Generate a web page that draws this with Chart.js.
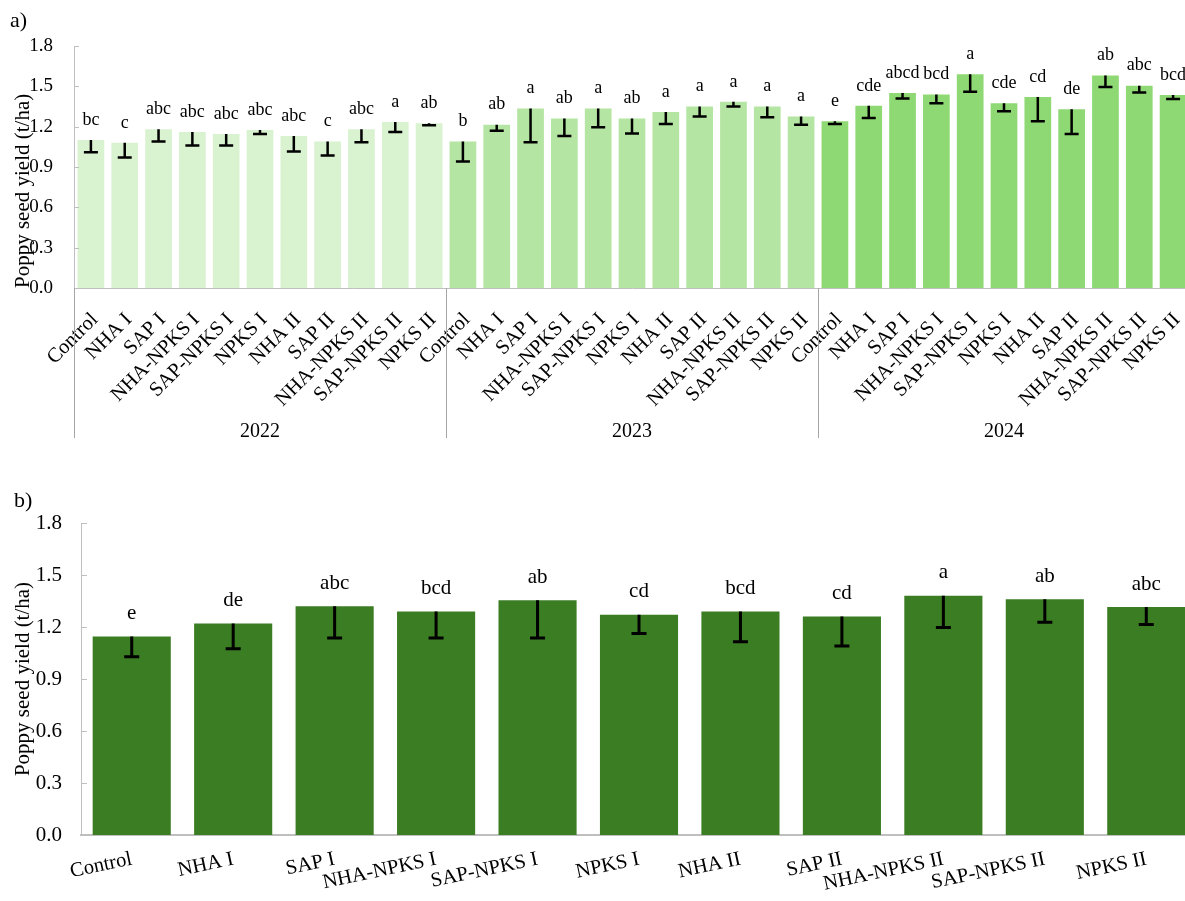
<!DOCTYPE html>
<html>
<head>
<meta charset="utf-8">
<title>Poppy seed yield</title>
<script src="https://cdn.jsdelivr.net/npm/chart.js@4.4.1/dist/chart.umd.min.js"></script>
<style>
  body { margin: 0; background: #fff; overflow: hidden; width: 1185px; height: 901px; position: relative; font-family: "Liberation Serif", "Times New Roman", serif; }
  canvas { position: absolute; left: 0; }
  .panel-label { position: absolute; font-size: 22px; color: #000; z-index: 2; }
</style>
</head>
<body>
<div class="panel-label" style="left:10px; top:7px">a)</div>
<canvas id="chartA" width="1190" height="450" style="top:0"></canvas>
<div class="panel-label" style="left:14px; top:487px">b)</div>
<canvas id="chartB" width="1197" height="451" style="top:450px"></canvas>
<script>
// treatments and years
const treatments = ['Control', 'NHA I', 'SAP I', 'NHA-NPKS I', 'SAP-NPKS I', 'NPKS I',
                    'NHA II', 'SAP II', 'NHA-NPKS II', 'SAP-NPKS II', 'NPKS II'];
const years = ['2022', '2023', '2024'];

// panel a) yield per year (t/ha), lower error (SE) and letters
const yield2022 = [1.10, 1.08, 1.18, 1.16, 1.145, 1.175, 1.13, 1.09, 1.18, 1.235, 1.225];
const err2022   = [0.09, 0.11, 0.09, 0.10, 0.085, 0.03, 0.115, 0.105, 0.095, 0.075, 0.015];
const letters2022 = ['bc', 'c', 'abc', 'abc', 'abc', 'abc', 'abc', 'c', 'abc', 'a', 'ab'];

const yield2023 = [1.09, 1.215, 1.335, 1.26, 1.335, 1.26, 1.31, 1.35, 1.385, 1.35, 1.275];
const err2023   = [0.15, 0.045, 0.25, 0.13, 0.14, 0.11, 0.09, 0.075, 0.035, 0.08, 0.06];
const letters2023 = ['b', 'ab', 'a', 'ab', 'a', 'ab', 'a', 'a', 'a', 'a', 'a'];

const yield2024 = [1.24, 1.355, 1.45, 1.44, 1.59, 1.375, 1.42, 1.33, 1.58, 1.505, 1.435];
const err2024   = [0.02, 0.09, 0.04, 0.065, 0.13, 0.06, 0.18, 0.185, 0.085, 0.05, 0.03];
const letters2024 = ['e', 'cde', 'abcd', 'bcd', 'a', 'cde', 'cd', 'de', 'ab', 'abc', 'bcd'];

// panel b) mean over years
const yieldMean = [1.145, 1.22, 1.32, 1.29, 1.355, 1.27, 1.29, 1.26, 1.38, 1.36, 1.315];
const errMean   = [0.117, 0.146, 0.183, 0.153, 0.218, 0.108, 0.175, 0.17, 0.183, 0.133, 0.101];
const lettersMean = ['e', 'de', 'abc', 'bcd', 'ab', 'cd', 'bcd', 'cd', 'a', 'ab', 'abc'];

const yMin = 0, yMax = 1.8, yStep = 0.3;

const yearColors = ['#d9f2d0', '#b4e5a2', '#8ed973'];
const meanColor = '#3b7d23';
const axisColor = '#bfbfbf';
const FONT = '"Liberation Serif", "Times New Roman", serif';

// error bars (minus only), letters, inward y ticks
function marksPlugin(errors, letters, s) {
  return {
    id: 'marks',
    afterDatasetsDraw(chart) {
      const ctx = chart.ctx;
      const x = chart.scales.x, y = chart.scales.y;
      const vals = chart.data.datasets[0].data;
      const meta = chart.getDatasetMeta(0);
      ctx.save();
      ctx.strokeStyle = axisColor;
      ctx.lineWidth = 1;
      y.ticks.forEach(t => {
        const py = Math.round(y.getPixelForValue(t.value)) + 0.5;
        ctx.beginPath();
        ctx.moveTo(x.left, py);
        ctx.lineTo(x.left + s.tick, py);
        ctx.stroke();
      });
      ctx.strokeStyle = '#000';
      ctx.lineWidth = s.errWidth;
      ctx.fillStyle = '#000';
      ctx.font = s.letterSize + 'px ' + FONT;
      ctx.textAlign = 'center';
      ctx.textBaseline = 'middle';
      meta.data.forEach((bar, i) => {
        const top = y.getPixelForValue(vals[i]);
        const bot = y.getPixelForValue(vals[i] - errors[i]);
        ctx.beginPath();
        ctx.moveTo(bar.x, top);
        ctx.lineTo(bar.x, bot);
        ctx.moveTo(bar.x - s.cap / 2, bot);
        ctx.lineTo(bar.x + s.cap / 2, bot);
        ctx.stroke();
        ctx.fillText(letters[i], bar.x, top - s.letterGap);
      });
      ctx.restore();
    }
  };
}

// year group separators and year labels under panel a)
const groupsPlugin = {
  id: 'groups',
  afterDraw(chart) {
    const ctx = chart.ctx, x = chart.scales.x, y = chart.scales.y;
    const n = treatments.length;
    ctx.save();
    ctx.strokeStyle = '#a6a6a6';
    ctx.lineWidth = 1;
    for (let g = 0; g <= years.length; g++) {
      const px = Math.round(x.getPixelForValue(g * n - 0.5)) + 0.5;
      ctx.beginPath();
      ctx.moveTo(px, y.bottom);
      ctx.lineTo(px, y.bottom + 150);
      ctx.stroke();
    }
    ctx.fillStyle = '#000';
    ctx.font = '20px ' + FONT;
    ctx.textAlign = 'center';
    ctx.textBaseline = 'middle';
    years.forEach((yr, g) => {
      const cx = (x.getPixelForValue(g * n - 0.5) + x.getPixelForValue((g + 1) * n - 0.5)) / 2;
      ctx.fillText(yr, cx, y.bottom + 144);
    });
    ctx.restore();
  }
};

function yAxis(tickSize, titleSize, pad, width, align) {
  return {
    min: yMin, max: yMax,
    ticks: { stepSize: yStep, color: '#000', padding: pad, font: { family: FONT, size: tickSize },
             callback: v => Number(v).toFixed(1) },
    grid: { display: false, drawTicks: false },
    border: { display: true, color: axisColor, width: 1 },
    title: { display: true, text: 'Poppy seed yield (t/ha)', color: '#000', align: align,
             font: { family: FONT, size: titleSize }, padding: { top: 11, bottom: 0 } },
    afterFit: s => { s.width = width; s.paddingTop = 0; s.paddingBottom = 0; }
  };
}

function xAxis(tickSize, rot, height, pad, shift, borderW) {
  return {
    ticks: { color: '#000', minRotation: rot, maxRotation: rot, autoSkip: false, padding: pad,
             labelOffset: shift, font: { family: FONT, size: tickSize } },
    grid: { display: false, drawTicks: false },
    border: { display: true, color: axisColor, width: borderW },
    afterFit: s => { s.height = height; s.paddingLeft = 0; s.paddingRight = 0; }
  };
}

// panel a)
const labelsA = [].concat(treatments, treatments, treatments);
const dataA = [].concat(yield2022, yield2023, yield2024);
const errA = [].concat(err2022, err2023, err2024);
const lettersA = [].concat(letters2022, letters2023, letters2024);
const colorsA = dataA.map((v, i) => yearColors[Math.floor(i / treatments.length)]);

new Chart(document.getElementById('chartA'), {
  type: 'bar',
  data: { labels: labelsA, datasets: [{ data: dataA, backgroundColor: colorsA,
          categoryPercentage: 1, barPercentage: 0.79 }] },
  options: {
    responsive: false, animation: false,
    layout: { padding: { top: 46, left: 0, right: 0, bottom: 0 } },
    plugins: { legend: { display: false }, tooltip: { enabled: false } },
    scales: { x: xAxis(20.5, 45, 162, 20, 4, 1), y: yAxis(19, 21, 21, 74, 'start') }
  },
  plugins: [marksPlugin(errA, lettersA, { tick: 5, errWidth: 2.5, cap: 14, letterSize: 18, letterGap: 20 }), groupsPlugin]
});

// panel b)
new Chart(document.getElementById('chartB'), {
  type: 'bar',
  data: { labels: treatments, datasets: [{ data: yieldMean, backgroundColor: meanColor,
          categoryPercentage: 1, barPercentage: 0.77 }] },
  options: {
    responsive: false, animation: false,
    layout: { padding: { top: 73, left: 0, right: 0, bottom: 0 } },
    plugins: { legend: { display: false }, tooltip: { enabled: false } },
    scales: { x: xAxis(20.5, 12, 66, 12, 0, 2), y: yAxis(21, 21, 19, 81, 'center') }
  },
  plugins: [marksPlugin(errMean, lettersMean, { tick: 6, errWidth: 3, cap: 15, letterSize: 21, letterGap: 23 })]
});
</script>
</body>
</html>
